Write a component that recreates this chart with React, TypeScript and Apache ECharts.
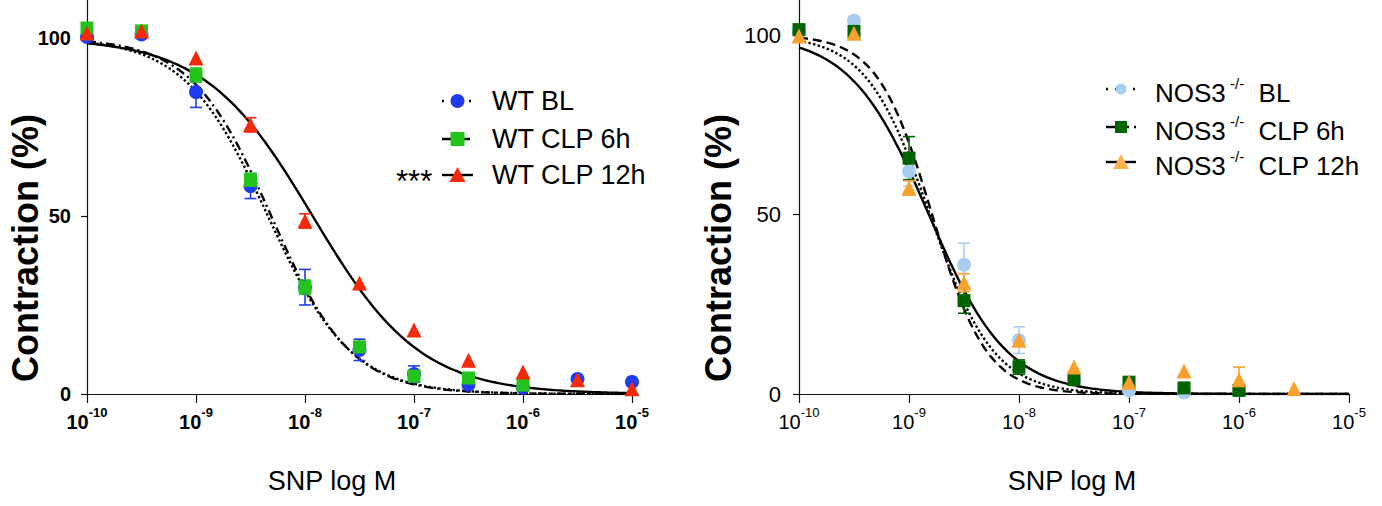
import React, { useEffect, useRef } from "react";
import * as echarts from "echarts";

const FONT = "'Liberation Sans', Arial, Helvetica, sans-serif";

// log10 molar SNP concentrations
const logConc = [-10, -9.5, -9, -8.5, -8, -7.5, -7, -6.5, -6, -5.5, -5];
const yTicks = [0, 50, 100];

// Left panel (WT)
const wtBL = [100.3, 101, 84.8, 58.4, 30, 12.4, 5.6, 2.6, 1.8, 4.2, 3.4];
const wtBLerr = [0, 0, 4.3, 3.5, 5, 3, 2.3, 0, 0, 0, 0];
const wt6h = [102.8, 102, 89.6, 60, 30, 13.2, 5, 4.5, 2.5, null, null];
const wt6hErr = [0, 0, 2, 2, 2, 1.5, 0, 0, 0, 0, 0];
const wt12h = [101.4, 102, 94.4, 75.6, 48.6, 31.2, 18, 9.5, 6.2, 4, 1.5];
const wt12hErr = [0, 0, 0, 2, 2, 0, 0, 0, 0, 0, 0];
// fitted sigmoid parameters (logIC50, Hill slope) for BL, CLP 6h, CLP 12h
const wtFitIC50 = [-8.34, -8.31, -7.93];
const wtFitHill = [1.14, 1.19, 0.88];

// Right panel (NOS3-/-)
const nosBL = [101, 104, 62, 36, 15, 4, 1, 0.5, 1, null, null];
const nosBLerr = [0, 0, 4, 6, 3.7, 0, 0, 0, 0, 0, 0];
const nos6h = [101.5, 101, 65.7, 26, 7.5, 4, 3.3, 1.7, 1, null, null];
const nos6hErr = [0, 0, 6, 3.5, 2, 0, 0, 0, 0, 0, 0];
const nos12h = [99.7, 100.5, 57.4, 31, 15, 7.5, 3.3, 6.4, 4, 1.5, null];
const nos12hErr = [0, 0, 2, 2.5, 0, 0, 0, 0, 3.5, 0, 0];
const nosFitIC50 = [-8.81, -8.79, -8.82];
const nosFitHill = [1.5, 1.75, 1.22];

const wtNames = ["WT BL", "WT CLP 6h", "WT CLP 12h"];
const nosNames = ["BL", "CLP 6h", "CLP 12h"];

const wtColors = ["#1f3cf0", "#22c41c", "#f52a0a"];
const nosColors = ["#a8cdf0", "#006400", "#f9a12c"];

function fitCurve(ic50: number, hill: number): number[][] {
  const out: number[][] = [];
  for (let i = 0; i <= 200; i++) {
    const x = -10 + (i * 5) / 200;
    out.push([x, 100 / (1 + Math.pow(10, (x - ic50) * hill))]);
  }
  return out;
}

function pts(vals: (number | null)[]) {
  return logConc
    .map((x, i) => (vals[i] == null ? null : [x, vals[i] as number]))
    .filter((p) => p !== null) as number[][];
}

function errPts(vals: (number | null)[], errs: number[]) {
  return logConc
    .map((x, i) => (vals[i] == null || !errs[i] ? null : [x, vals[i] as number, errs[i]]))
    .filter((p) => p !== null) as number[][];
}

function errorSeries(idx: number, data: number[][], color: string) {
  return {
    type: "custom",
    xAxisIndex: idx,
    yAxisIndex: idx,
    z: 3,
    data,
    renderItem: (params: any, api: any) => {
      const x = api.value(0);
      const y = api.value(1);
      const e = api.value(2);
      const top = api.coord([x, y + e]);
      const bot = api.coord([x, y - e]);
      const hw = 6;
      const st = { stroke: color, lineWidth: 1.6 };
      return {
        type: "group",
        children: [
          { type: "line", shape: { x1: top[0], y1: top[1], x2: bot[0], y2: bot[1] }, style: st },
          { type: "line", shape: { x1: top[0] - hw, y1: top[1], x2: top[0] + hw, y2: top[1] }, style: st },
          { type: "line", shape: { x1: bot[0] - hw, y1: bot[1], x2: bot[0] + hw, y2: bot[1] }, style: st },
        ],
      };
    },
  };
}

const symbols = ["circle", "rect", "triangle"];
const symSizes = [14, 13, 15];

export default function App() {
  const ref = useRef<HTMLDivElement>(null);
  useEffect(() => {
    if (!ref.current) return;
    const chart = echarts.init(ref.current, null, { renderer: "svg" });

    const xAxisCommon = (idx: number, bold: boolean) => ({
      type: "value",
      gridIndex: idx,
      min: -10,
      max: -5,
      interval: 1,
      splitLine: { show: false },
      axisLine: { lineStyle: { color: "#111", width: 1.2 } },
      axisTick: { length: 9, lineStyle: { color: "#111", width: 1.2 } },
      axisLabel: {
        margin: 12,
        formatter: (v: number) => `{b|10}{s|${v}}`,
        rich: {
          b: {
            fontFamily: FONT,
            fontSize: 20,
            fontWeight: bold ? "bold" : "normal",
            color: "#000",
            lineHeight: 26,
            verticalAlign: "bottom",
          },
          s: {
            fontFamily: FONT,
            fontSize: 13,
            fontWeight: bold ? "bold" : "normal",
            color: "#000",
            lineHeight: 15,
            verticalAlign: "top",
          },
        },
      },
    });

    const yAxisCommon = (idx: number, bold: boolean) => ({
      type: "value",
      gridIndex: idx,
      min: 0,
      max: 150,
      interval: 50,
      splitLine: { show: false },
      axisLine: { lineStyle: { color: "#111", width: 1.2 } },
      axisTick: { length: 6, lineStyle: { color: "#111", width: 1.2 } },
      axisLabel: {
        margin: bold ? 16 : 18,
        fontFamily: FONT,
        fontSize: bold ? 20 : 22,
        fontWeight: bold ? "bold" : "normal",
        color: "#000",
        formatter: (v: number) => (yTicks.indexOf(v) >= 0 ? String(v) : ""),
      },
    });

    const lineTypes: any[] = ["dotted", [9, 4, 2, 4], "solid"];
    const nosLineTypes: any[] = ["dotted", [9, 5], "solid"];

    const series: any[] = [];
    // curves
    [0, 1, 2].forEach((k) => {
      series.push({
        type: "line",
        xAxisIndex: 0,
        yAxisIndex: 0,
        showSymbol: false,
        z: 2,
        data: fitCurve(wtFitIC50[k], wtFitHill[k]),
        lineStyle: { color: "#000", width: 2.4, type: lineTypes[k] },
      });
      series.push({
        type: "line",
        xAxisIndex: 1,
        yAxisIndex: 1,
        showSymbol: false,
        z: 2,
        data: fitCurve(nosFitIC50[k], nosFitHill[k]),
        lineStyle: { color: "#000", width: 2.4, type: nosLineTypes[k] },
      });
    });
    // error bars + points
    const wtVals = [wtBL, wt6h, wt12h];
    const wtErrs = [wtBLerr, wt6hErr, wt12hErr];
    const nosVals = [nosBL, nos6h, nos12h];
    const nosErrs = [nosBLerr, nos6hErr, nos12hErr];
    [0, 1, 2].forEach((k) => {
      series.push(errorSeries(0, errPts(wtVals[k], wtErrs[k]), wtColors[k]));
      series.push({
        type: "scatter",
        name: wtNames[k],
        xAxisIndex: 0,
        yAxisIndex: 0,
        z: 4 + k,
        symbol: symbols[k],
        symbolSize: symSizes[k],
        itemStyle: { color: wtColors[k], opacity: 1 },
        data: pts(wtVals[k]),
      });
      series.push(errorSeries(1, errPts(nosVals[k], nosErrs[k]), nosColors[k]));
      series.push({
        type: "scatter",
        name: "NOS3 " + nosNames[k],
        xAxisIndex: 1,
        yAxisIndex: 1,
        z: 4 + k,
        symbol: symbols[k],
        symbolSize: symSizes[k],
        itemStyle: { color: nosColors[k], opacity: 1 },
        data: pts(nosVals[k]),
      });
    });

    // legends
    const graphics: any[] = [];
    const legendMarker = (cx: number, cy: number, k: number, color: string, size: number) => {
      if (k === 0) return { type: "circle", shape: { cx, cy, r: size / 2 }, style: { fill: color } };
      if (k === 1)
        return { type: "rect", shape: { x: cx - size / 2, y: cy - size / 2, width: size, height: size }, style: { fill: color } };
      return {
        type: "polygon",
        shape: { points: [[cx, cy - size / 2 - 1], [cx - size / 2 - 1, cy + size / 2], [cx + size / 2 + 1, cy + size / 2]] },
        style: { fill: color },
      };
    };
    const wtRows = [101, 139, 175];
    const legLineDash: any[] = [[2, 7], [9, 4, 2, 4], null];
    wtRows.forEach((y, k) => {
      graphics.push({
        type: "line",
        shape: { x1: 442, y1: y, x2: 473, y2: y },
        style: { stroke: "#000", lineWidth: 2.4, lineDash: legLineDash[k] },
      });
      graphics.push(legendMarker(457.5, y, k, wtColors[k], 14));
      graphics.push({
        type: "text",
        x: 492,
        y,
        style: { text: wtNames[k], font: `27px ${FONT}`, fill: "#000", verticalAlign: "middle" },
      });
    });
    graphics.push({
      type: "text",
      x: 396,
      y: 181,
      style: { text: "***", font: `31px ${FONT}`, fill: "#000", verticalAlign: "middle" },
    });
    const nosRows = [89, 127, 162];
    const nosLegDash: any[] = [[2, 7], [9, 5], null];
    const nosLegSize = [11, 12, 14];
    nosRows.forEach((y, k) => {
      graphics.push({
        type: "line",
        shape: { x1: 1106, y1: y, x2: 1136, y2: y },
        style: { stroke: "#000", lineWidth: 2.4, lineDash: nosLegDash[k] },
      });
      graphics.push(legendMarker(1121, y, k, k === 2 ? "#ffb150" : nosColors[k], nosLegSize[k]));
      graphics.push({
        type: "text",
        x: 1155,
        y: y - 13,
        style: {
          text: `{a|NOS3}{s| -/-}{a|  ${nosNames[k]}}`,
          rich: {
            a: { fontFamily: FONT, fontSize: 26, color: "#000", lineHeight: 30, verticalAlign: "bottom" },
            s: { fontFamily: FONT, fontSize: 15, color: "#000", lineHeight: 16, verticalAlign: "top" },
          },
        },
      });
    });
    // axis titles
    [25, 718].forEach((x) => {
      graphics.push({
        type: "text",
        x,
        y: 248,
        rotation: Math.PI / 2,
        style: {
          text: "Contraction (%)",
          font: `bold 36px ${FONT}`,
          fill: "#000",
          align: "center",
          verticalAlign: "middle",
        },
      });
    });
    [332, 1072].forEach((x) => {
      graphics.push({
        type: "text",
        x,
        y: 481,
        style: { text: "SNP log M", font: `27px ${FONT}`, fill: "#000", align: "center", verticalAlign: "middle" },
      });
    });

    chart.setOption({
      animation: false,
      backgroundColor: "#fff",
      grid: [
        { left: 87, width: 545, top: 394 - 150 * 3.56, height: 150 * 3.56, containLabel: false, outerBoundsMode: "none" },
        { left: 799, width: 550, top: 394 - 150 * 3.59, height: 150 * 3.59, containLabel: false, outerBoundsMode: "none" },
      ],
      xAxis: [xAxisCommon(0, true), xAxisCommon(1, false)],
      yAxis: [yAxisCommon(0, true), yAxisCommon(1, false)],
      series,
      graphic: graphics,
    });
    return () => chart.dispose();
  }, []);
  return (
    <div
      ref={ref}
      style={{ position: "fixed", left: 0, top: 0, width: 1382, height: 506, background: "#fff" }}
    />
  );
}
